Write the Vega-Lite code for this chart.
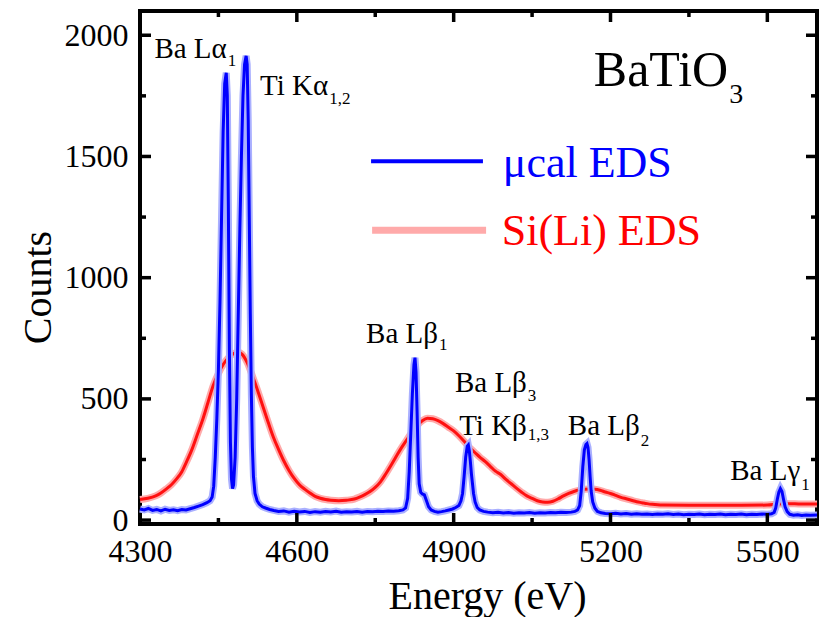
{
"$schema": "https://vega.github.io/schema/vega-lite/v6.json",
"width": 677, "height": 513,
"autosize": {"type": "none"},
"padding": {"left": 140, "top": 11, "right": 6, "bottom": 93},
"background": "white",
"config": {
  "view": {"stroke": "black", "strokeWidth": 4, "fill": "transparent"},
  "axis": {"domain": false, "grid": false, "ticks": false, "tickSize": 0, "labelFont": "Liberation Serif", "labelFontSize": 32, "labelColor": "black", "labelPadding": 12, "labelFlush": false, "labelOverlap": false, "labelBound": false, "titleFont": "Liberation Serif", "titleFontSize": 40, "titleFontWeight": "normal", "titleColor": "black", "format": "d"}
},
"datasets": {
  "red": [
    {"E":4300,"C":85},{"E":4315,"C":90},{"E":4330,"C":100},{"E":4340,"C":112},{"E":4350,"C":128},{"E":4360,"C":146},{"E":4370,"C":170},{"E":4380,"C":200},{"E":4390,"C":245},{"E":4400,"C":295},{"E":4410,"C":355},{"E":4420,"C":415},{"E":4430,"C":485},{"E":4440,"C":555},{"E":4450,"C":605},{"E":4460,"C":645},{"E":4470,"C":672},{"E":4480,"C":688},{"E":4488,"C":692},{"E":4495,"C":685},{"E":4505,"C":650},{"E":4515,"C":595},{"E":4525,"C":535},{"E":4535,"C":470},{"E":4545,"C":405},{"E":4555,"C":343},{"E":4565,"C":292},{"E":4575,"C":245},{"E":4585,"C":205},{"E":4595,"C":172},{"E":4605,"C":146},{"E":4615,"C":128},{"E":4625,"C":112},{"E":4635,"C":98},{"E":4645,"C":90},{"E":4655,"C":85},{"E":4665,"C":82},{"E":4680,"C":80},{"E":4695,"C":82},{"E":4710,"C":87},{"E":4720,"C":95},{"E":4730,"C":105},{"E":4740,"C":118},{"E":4750,"C":135},{"E":4760,"C":158},{"E":4770,"C":190},{"E":4780,"C":225},{"E":4790,"C":262},{"E":4800,"C":298},{"E":4810,"C":330},{"E":4820,"C":362},{"E":4830,"C":390},{"E":4840,"C":410},{"E":4850,"C":420},{"E":4860,"C":418},{"E":4870,"C":410},{"E":4880,"C":398},{"E":4890,"C":383},{"E":4900,"C":368},{"E":4910,"C":348},{"E":4920,"C":325},{"E":4930,"C":300},{"E":4940,"C":280},{"E":4950,"C":260},{"E":4960,"C":242},{"E":4970,"C":222},{"E":4980,"C":202},{"E":4990,"C":188},{"E":5000,"C":168},{"E":5010,"C":150},{"E":5020,"C":132},{"E":5030,"C":115},{"E":5040,"C":100},{"E":5050,"C":90},{"E":5060,"C":80},{"E":5070,"C":75},{"E":5080,"C":74},{"E":5090,"C":78},{"E":5100,"C":88},{"E":5110,"C":100},{"E":5120,"C":110},{"E":5130,"C":118},{"E":5140,"C":124},{"E":5150,"C":127},{"E":5160,"C":128},{"E":5170,"C":127},{"E":5180,"C":123},{"E":5190,"C":116},{"E":5200,"C":110},{"E":5210,"C":102},{"E":5220,"C":94},{"E":5230,"C":88},{"E":5240,"C":82},{"E":5250,"C":76},{"E":5260,"C":72},{"E":5270,"C":68},{"E":5280,"C":65},{"E":5290,"C":63},{"E":5300,"C":62},{"E":5350,"C":61},{"E":5400,"C":61},{"E":5450,"C":61},{"E":5500,"C":62},{"E":5520,"C":66},{"E":5540,"C":68},{"E":5560,"C":67},{"E":5595,"C":66}
  ],
  "blue": [
    {"E":4300,"C":46},{"E":4308,"C":42},{"E":4316,"C":48},{"E":4324,"C":40},{"E":4332,"C":44},{"E":4340,"C":38},{"E":4348,"C":45},{"E":4356,"C":40},{"E":4364,"C":43},{"E":4372,"C":39},{"E":4380,"C":44},{"E":4388,"C":42},{"E":4396,"C":47},{"E":4404,"C":52},{"E":4412,"C":58},{"E":4420,"C":64},{"E":4428,"C":72},{"E":4434,"C":80},{"E":4438,"C":95},{"E":4441,"C":140},{"E":4444,"C":260},{"E":4447,"C":420},{"E":4450,"C":620},{"E":4453,"C":900},{"E":4456,"C":1250},{"E":4459,"C":1600},{"E":4462,"C":1800},{"E":4465,"C":1845},{"E":4467,"C":1750},{"E":4469,"C":1300},{"E":4471,"C":700},{"E":4473,"C":320},{"E":4475,"C":170},{"E":4477,"C":130},{"E":4479,"C":145},{"E":4482,"C":260},{"E":4485,"C":500},{"E":4488,"C":850},{"E":4491,"C":1200},{"E":4494,"C":1500},{"E":4497,"C":1750},{"E":4500,"C":1880},{"E":4503,"C":1915},{"E":4505,"C":1880},{"E":4507,"C":1650},{"E":4509,"C":1250},{"E":4511,"C":850},{"E":4513,"C":520},{"E":4515,"C":300},{"E":4517,"C":180},{"E":4520,"C":110},{"E":4524,"C":80},{"E":4528,"C":66},{"E":4534,"C":55},{"E":4540,"C":50},{"E":4548,"C":44},{"E":4556,"C":40},{"E":4565,"C":36},{"E":4575,"C":38},{"E":4585,"C":33},{"E":4595,"C":37},{"E":4605,"C":34},{"E":4615,"C":36},{"E":4625,"C":32},{"E":4635,"C":35},{"E":4645,"C":33},{"E":4655,"C":36},{"E":4665,"C":34},{"E":4675,"C":37},{"E":4685,"C":33},{"E":4695,"C":35},{"E":4705,"C":34},{"E":4715,"C":36},{"E":4725,"C":33},{"E":4735,"C":36},{"E":4745,"C":35},{"E":4755,"C":37},{"E":4765,"C":36},{"E":4775,"C":38},{"E":4785,"C":37},{"E":4795,"C":39},{"E":4803,"C":42},{"E":4808,"C":50},{"E":4812,"C":90},{"E":4815,"C":200},{"E":4818,"C":360},{"E":4821,"C":520},{"E":4824,"C":640},{"E":4826,"C":670},{"E":4828,"C":610},{"E":4830,"C":450},{"E":4832,"C":260},{"E":4834,"C":150},{"E":4837,"C":115},{"E":4840,"C":108},{"E":4844,"C":104},{"E":4848,"C":80},{"E":4852,"C":55},{"E":4857,"C":42},{"E":4863,"C":36},{"E":4870,"C":33},{"E":4877,"C":35},{"E":4884,"C":38},{"E":4891,"C":42},{"E":4898,"C":46},{"E":4904,"C":52},{"E":4910,"C":60},{"E":4914,"C":80},{"E":4917,"C":110},{"E":4920,"C":180},{"E":4923,"C":260},{"E":4926,"C":305},{"E":4928,"C":310},{"E":4930,"C":285},{"E":4932,"C":240},{"E":4934,"C":190},{"E":4936,"C":150},{"E":4938,"C":110},{"E":4941,"C":75},{"E":4945,"C":52},{"E":4950,"C":42},{"E":4957,"C":36},{"E":4965,"C":33},{"E":4975,"C":30},{"E":4985,"C":32},{"E":4995,"C":29},{"E":5005,"C":31},{"E":5015,"C":28},{"E":5025,"C":30},{"E":5035,"C":29},{"E":5045,"C":31},{"E":5055,"C":28},{"E":5065,"C":30},{"E":5075,"C":29},{"E":5085,"C":31},{"E":5095,"C":30},{"E":5105,"C":32},{"E":5115,"C":31},{"E":5125,"C":33},{"E":5132,"C":36},{"E":5137,"C":42},{"E":5141,"C":60},{"E":5144,"C":120},{"E":5147,"C":220},{"E":5150,"C":290},{"E":5153,"C":312},{"E":5155,"C":316},{"E":5157,"C":300},{"E":5159,"C":250},{"E":5161,"C":180},{"E":5163,"C":120},{"E":5166,"C":75},{"E":5170,"C":50},{"E":5175,"C":36},{"E":5182,"C":30},{"E":5190,"C":27},{"E":5200,"C":26},{"E":5210,"C":28},{"E":5220,"C":25},{"E":5230,"C":27},{"E":5240,"C":24},{"E":5250,"C":26},{"E":5260,"C":24},{"E":5270,"C":25},{"E":5280,"C":23},{"E":5290,"C":25},{"E":5300,"C":24},{"E":5310,"C":26},{"E":5320,"C":23},{"E":5330,"C":25},{"E":5340,"C":22},{"E":5350,"C":24},{"E":5360,"C":23},{"E":5370,"C":25},{"E":5380,"C":22},{"E":5390,"C":24},{"E":5400,"C":23},{"E":5410,"C":25},{"E":5420,"C":22},{"E":5430,"C":24},{"E":5440,"C":23},{"E":5450,"C":25},{"E":5460,"C":22},{"E":5470,"C":24},{"E":5480,"C":23},{"E":5490,"C":25},{"E":5500,"C":24},{"E":5508,"C":26},{"E":5513,"C":32},{"E":5516,"C":50},{"E":5519,"C":85},{"E":5522,"C":115},{"E":5525,"C":130},{"E":5528,"C":118},{"E":5531,"C":85},{"E":5534,"C":55},{"E":5538,"C":35},{"E":5543,"C":24},{"E":5550,"C":20},{"E":5558,"C":22},{"E":5566,"C":19},{"E":5574,"C":21},{"E":5582,"C":20},{"E":5595,"C":21}
  ],
  "xTicks": [
    {"E":4300,"k":"major"},{"E":4450,"k":"minor"},{"E":4600,"k":"major"},{"E":4750,"k":"minor"},{"E":4900,"k":"major"},{"E":5050,"k":"minor"},{"E":5200,"k":"major"},{"E":5350,"k":"minor"},{"E":5500,"k":"major"}
  ],
  "yTicks": [
    {"C":0,"k":"major"},{"C":250,"k":"minor"},{"C":500,"k":"major"},{"C":750,"k":"minor"},{"C":1000,"k":"major"},{"C":1250,"k":"minor"},{"C":1500,"k":"major"},{"C":1750,"k":"minor"},{"C":2000,"k":"major"}
  ],
  "legendLines": [
    {"E":4742,"E2":4956,"C":1480,"s":"μcal EDS"},
    {"E":4744,"E2":4962,"C":1196,"s":"Si(Li) EDS"}
  ],
  "legendText": [
    {"E":4994,"C":1414,"t":"μcal EDS"},
    {"E":4992,"C":1134,"t":"Si(Li) EDS"}
  ],
  "notes": [
    {"E":4466,"C":1905,"t":"Ba Lα"},{"E":4660,"C":1753,"t":"Ti Kα"},{"E":4870,"C":730,"t":"Ba Lβ"},{"E":5040,"C":528,"t":"Ba Lβ"},{"E":5040,"C":351,"t":"Ti Kβ"},{"E":5256,"C":351,"t":"Ba Lβ"},{"E":5563,"C":165,"t":"Ba Lγ"}
  ],
  "subs": [
    {"E":4466,"C":1872,"t":"1"},{"E":4660,"C":1715,"t":"1,2"},{"E":4870,"C":701,"t":"1"},{"E":5040,"C":491,"t":"3"},{"E":5040,"C":330,"t":"1,3"},{"E":5256,"C":305,"t":"2"},{"E":5563,"C":124,"t":"1"}
  ],
  "formula": [{"E":5425,"C":1790,"t":"BaTiO"}],
  "formulaSub": [{"E":5425,"C":1720,"t":"3"}]
},
"layer": [
  {
    "data": {"name": "red"},
    "mark": {"type": "line", "color": "#ffaaaa", "strokeWidth": 7, "interpolate": "monotone"},
    "encoding": {
      "x": {"field": "E", "type": "quantitative", "scale": {"domain": [4300, 5595], "nice": false, "zero": false},
            "axis": {"orient": "bottom", "values": [4300, 4600, 4900, 5200, 5500], "title": "Energy (eV)", "titleX": 347, "titleY": 84, "titleBaseline": "alphabetic", "titleAlign": "center"}},
      "y": {"field": "C", "type": "quantitative", "scale": {"domain": [-16, 2100], "nice": false, "zero": false},
            "axis": {"orient": "left", "values": [0, 500, 1000, 1500, 2000], "title": "Counts", "titleX": -90, "titleY": 276, "titleAngle": -90, "titleBaseline": "alphabetic", "titleAlign": "center"}}
    }
  },
  {
    "data": {"name": "red"},
    "mark": {"type": "line", "color": "#ff1010", "strokeWidth": 3, "interpolate": "monotone"},
    "encoding": {
      "x": {"field": "E", "type": "quantitative", "scale": {"domain": [4300, 5595], "nice": false, "zero": false}},
      "y": {"field": "C", "type": "quantitative", "scale": {"domain": [-16, 2100], "nice": false, "zero": false}}
    }
  },
  {
    "data": {"name": "blue"},
    "mark": {"type": "line", "color": "#aab0ff", "strokeWidth": 7},
    "encoding": {
      "x": {"field": "E", "type": "quantitative", "scale": {"domain": [4300, 5595], "nice": false, "zero": false}},
      "y": {"field": "C", "type": "quantitative", "scale": {"domain": [-16, 2100], "nice": false, "zero": false}}
    }
  },
  {
    "data": {"name": "blue"},
    "mark": {"type": "line", "color": "#0000ff", "strokeWidth": 3},
    "encoding": {
      "x": {"field": "E", "type": "quantitative", "scale": {"domain": [4300, 5595], "nice": false, "zero": false}},
      "y": {"field": "C", "type": "quantitative", "scale": {"domain": [-16, 2100], "nice": false, "zero": false}}
    }
  },
  {
    "data": {"name": "xTicks"},
    "mark": {"type": "tick", "orient": "vertical", "thickness": 3.5, "color": "black", "opacity": 1, "clip": true},
    "encoding": {
      "x": {"field": "E", "type": "quantitative", "scale": {"domain": [4300, 5595], "nice": false, "zero": false}},
      "y": {"datum": -16, "type": "quantitative", "scale": {"domain": [-16, 2100], "nice": false, "zero": false}},
      "size": {"field": "k", "type": "nominal", "scale": {"domain": ["major", "minor"], "range": [22, 12]}, "legend": null}
    }
  },
  {
    "data": {"name": "xTicks"},
    "mark": {"type": "tick", "orient": "vertical", "thickness": 3.5, "color": "black", "opacity": 1, "clip": true},
    "encoding": {
      "x": {"field": "E", "type": "quantitative", "scale": {"domain": [4300, 5595], "nice": false, "zero": false}},
      "y": {"datum": 2100, "type": "quantitative", "scale": {"domain": [-16, 2100], "nice": false, "zero": false}},
      "size": {"field": "k", "type": "nominal", "scale": {"domain": ["major", "minor"], "range": [22, 12]}, "legend": null}
    }
  },
  {
    "data": {"name": "yTicks"},
    "mark": {"type": "tick", "orient": "horizontal", "thickness": 3.5, "color": "black", "opacity": 1, "clip": true},
    "encoding": {
      "x": {"datum": 4300, "type": "quantitative", "scale": {"domain": [4300, 5595], "nice": false, "zero": false}},
      "y": {"field": "C", "type": "quantitative", "scale": {"domain": [-16, 2100], "nice": false, "zero": false}},
      "size": {"field": "k", "type": "nominal", "scale": {"domain": ["major", "minor"], "range": [22, 12]}, "legend": null}
    }
  },
  {
    "data": {"name": "yTicks"},
    "mark": {"type": "tick", "orient": "horizontal", "thickness": 3.5, "color": "black", "opacity": 1, "clip": true},
    "encoding": {
      "x": {"datum": 5595, "type": "quantitative", "scale": {"domain": [4300, 5595], "nice": false, "zero": false}},
      "y": {"field": "C", "type": "quantitative", "scale": {"domain": [-16, 2100], "nice": false, "zero": false}},
      "size": {"field": "k", "type": "nominal", "scale": {"domain": ["major", "minor"], "range": [22, 12]}, "legend": null}
    }
  },
  {
    "data": {"name": "legendLines"},
    "transform": [{"filter": "datum.s == 'μcal EDS'"}],
    "mark": {"type": "rule", "color": "#0000ff", "strokeWidth": 4},
    "encoding": {
      "x": {"field": "E", "type": "quantitative", "scale": {"domain": [4300, 5595], "nice": false, "zero": false}},
      "x2": {"field": "E2"},
      "y": {"field": "C", "type": "quantitative", "scale": {"domain": [-16, 2100], "nice": false, "zero": false}}
    }
  },
  {
    "data": {"name": "legendLines"},
    "transform": [{"filter": "datum.s == 'Si(Li) EDS'"}],
    "mark": {"type": "rule", "color": "#ffaaaa", "strokeWidth": 7},
    "encoding": {
      "x": {"field": "E", "type": "quantitative", "scale": {"domain": [4300, 5595], "nice": false, "zero": false}},
      "x2": {"field": "E2"},
      "y": {"field": "C", "type": "quantitative", "scale": {"domain": [-16, 2100], "nice": false, "zero": false}}
    }
  },
  {
    "data": {"name": "legendText"},
    "mark": {"type": "text", "font": "Liberation Serif", "fontSize": 44, "align": "left", "baseline": "alphabetic"},
    "encoding": {
      "x": {"field": "E", "type": "quantitative", "scale": {"domain": [4300, 5595], "nice": false, "zero": false}},
      "y": {"field": "C", "type": "quantitative", "scale": {"domain": [-16, 2100], "nice": false, "zero": false}},
      "text": {"field": "t"},
      "color": {"field": "t", "type": "nominal", "scale": {"domain": ["μcal EDS", "Si(Li) EDS"], "range": ["#0000ff", "#ff0000"]}, "legend": null}
    }
  },
  {
    "data": {"name": "notes"},
    "mark": {"type": "text", "font": "Liberation Serif", "fontSize": 29, "align": "right", "baseline": "alphabetic", "color": "black"},
    "encoding": {
      "x": {"field": "E", "type": "quantitative", "scale": {"domain": [4300, 5595], "nice": false, "zero": false}},
      "y": {"field": "C", "type": "quantitative", "scale": {"domain": [-16, 2100], "nice": false, "zero": false}},
      "text": {"field": "t"}
    }
  },
  {
    "data": {"name": "subs"},
    "mark": {"type": "text", "font": "Liberation Serif", "fontSize": 17, "align": "left", "baseline": "alphabetic", "dx": 1, "color": "black"},
    "encoding": {
      "x": {"field": "E", "type": "quantitative", "scale": {"domain": [4300, 5595], "nice": false, "zero": false}},
      "y": {"field": "C", "type": "quantitative", "scale": {"domain": [-16, 2100], "nice": false, "zero": false}},
      "text": {"field": "t"}
    }
  },
  {
    "data": {"name": "formula"},
    "mark": {"type": "text", "font": "Liberation Serif", "fontSize": 50, "align": "right", "baseline": "alphabetic", "color": "black"},
    "encoding": {
      "x": {"field": "E", "type": "quantitative", "scale": {"domain": [4300, 5595], "nice": false, "zero": false}},
      "y": {"field": "C", "type": "quantitative", "scale": {"domain": [-16, 2100], "nice": false, "zero": false}},
      "text": {"field": "t"}
    }
  },
  {
    "data": {"name": "formulaSub"},
    "mark": {"type": "text", "font": "Liberation Serif", "fontSize": 28, "align": "left", "baseline": "alphabetic", "dx": 1, "color": "black"},
    "encoding": {
      "x": {"field": "E", "type": "quantitative", "scale": {"domain": [4300, 5595], "nice": false, "zero": false}},
      "y": {"field": "C", "type": "quantitative", "scale": {"domain": [-16, 2100], "nice": false, "zero": false}},
      "text": {"field": "t"}
    }
  }
]
}
